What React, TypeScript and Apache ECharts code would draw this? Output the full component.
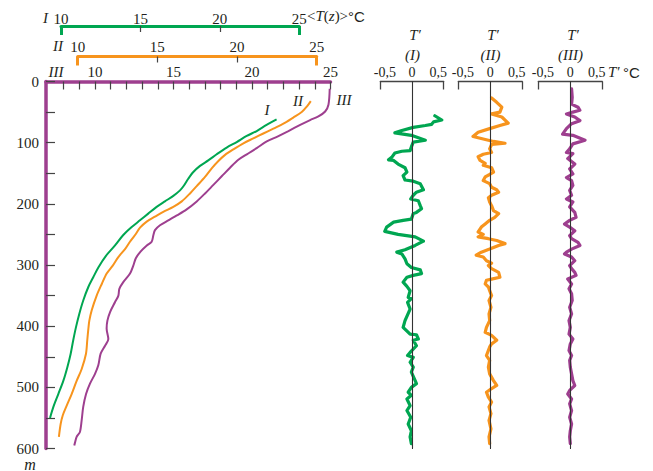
import React, { useEffect, useRef } from "react";
import * as echarts from "echarts";

const GREEN = "#00a651";
const ORANGE = "#f7941d";
const PURPLE = "#9e3f8f";
const INK = "#231f20";
const SERIF = "'Liberation Serif', 'DejaVu Serif', serif";
const SANS = "'Liberation Sans', 'DejaVu Sans', sans-serif";

// ---- mean temperature profiles <T(z)>, °C, vs depth, m ----
const depthI = [62, 71, 81, 89, 99, 108, 119, 129, 138, 148, 159, 170, 178, 187, 196, 205, 216, 227, 238, 251, 268, 285, 304, 320, 336, 358, 380, 402, 423, 445, 467, 489, 511, 532, 550];
const tempI = [23.57, 22.94, 22.32, 21.69, 21.06, 20.43, 19.8, 19.27, 18.75, 18.33, 18.01, 17.74, 17.49, 17.07, 16.54, 16.02, 15.49, 14.97, 14.45, 13.92, 13.4, 12.83, 12.35, 12.03, 11.72, 11.4, 11.15, 10.94, 10.77, 10.61, 10.4, 10.15, 9.83, 9.52, 9.31];

const depthII = [32, 41, 50, 59, 69, 77, 85, 93, 101, 111, 120, 130, 142, 156, 171, 183, 196, 205, 213, 221, 229, 239, 251, 262, 274, 287, 301, 314, 331, 350, 374, 391, 404, 423, 445, 470, 489, 511, 530, 546, 560, 581];
const tempII = [24.63, 24.38, 24.06, 23.53, 22.91, 22.28, 21.65, 21.02, 20.4, 19.77, 19.25, 18.83, 18.41, 17.99, 17.47, 17.05, 16.53, 16.0, 15.37, 14.85, 14.33, 13.91, 13.6, 13.28, 12.97, 12.55, 12.2, 11.82, 11.51, 11.19, 10.88, 10.73, 10.67, 10.6, 10.52, 10.25, 9.94, 9.62, 9.31, 9.06, 8.93, 8.82];

const depthIII = [12, 38, 49, 57, 63, 71, 81, 90, 98, 109, 119, 128, 141, 155, 169, 183, 196, 209, 219, 227, 235, 243, 251, 262, 268, 278, 289, 301, 314, 328, 339, 350, 361, 377, 391, 404, 421, 432, 445, 464, 478, 494, 511, 532, 554, 573, 581, 590, 595];
const tempIII = [24.95, 24.87, 24.66, 24.23, 23.7, 23.07, 22.32, 21.62, 20.94, 20.3, 19.67, 19.13, 18.6, 18.07, 17.54, 17.01, 16.48, 15.84, 15.21, 14.67, 14.14, 13.82, 13.72, 13.61, 13.3, 12.9, 12.6, 12.44, 12.23, 11.8, 11.55, 11.49, 11.27, 10.96, 10.79, 10.74, 10.85, 10.64, 10.36, 10.21, 10.0, 9.68, 9.43, 9.25, 9.15, 9.04, 8.83, 8.73, 8.68];

// ---- fluctuations T', °C, vs depth, m ----
const flucDepthI = [56, 63, 66, 70, 72, 75, 80, 84, 88, 96, 99, 107, 113, 114, 117, 124, 128, 129, 135, 141, 148, 154, 161, 163, 167, 177, 181, 186, 192, 195, 203, 208, 214, 216, 225, 227, 230, 238, 245, 250, 254, 261, 268, 275, 279, 282, 290, 298, 304, 308, 314, 317, 320, 328, 335, 342, 353, 355, 361, 372, 391, 402, 413, 414, 421, 423, 432, 443, 448, 451, 459, 467, 475, 489, 494, 500, 508, 513, 519, 530, 538, 549, 560, 571, 581, 592];
const flucI = [0.36, 0.47, 0.34, 0.31, 0.21, 0.02, -0.16, -0.27, -0.01, 0.21, 0.02, -0.01, -0.03, -0.16, -0.27, -0.32, -0.37, -0.29, -0.22, -0.11, -0.08, -0.14, -0.11, 0.02, 0.13, 0.18, 0.07, 0.02, -0.02, 0.1, 0.13, 0.15, 0.07, 0.02, -0.01, -0.14, -0.29, -0.4, -0.43, -0.22, 0.05, 0.18, 0.05, -0.11, -0.24, -0.16, -0.11, -0.08, -0.01, 0.13, 0.15, 0.02, -0.08, -0.14, -0.08, -0.03, -0.06, -0.01, -0.07, -0.03, -0.11, -0.14, -0.03, 0.07, 0.1, 0.02, 0.07, -0.03, -0.07, 0.02, -0.03, 0.02, -0.01, 0.05, 0.07, -0.01, -0.06, -0.01, -0.08, -0.03, -0.08, -0.02, -0.06, -0.01, -0.03, -0.01];

const flucDepthII = [27, 34, 42, 50, 53, 58, 68, 72, 77, 83, 90, 94, 98, 101, 103, 110, 116, 119, 123, 129, 134, 137, 141, 148, 152, 156, 162, 167, 173, 177, 181, 186, 190, 197, 203, 211, 216, 222, 227, 233, 238, 246, 250, 254, 257, 260, 265, 268, 274, 279, 284, 287, 293, 297, 301, 306, 312, 320, 323, 325, 331, 336, 342, 350, 358, 369, 380, 391, 402, 410, 415, 423, 429, 434, 448, 456, 467, 478, 489, 497, 502, 508, 516, 524, 532, 543, 554, 568, 581, 592];
const flucII = [0.02, 0.1, 0.18, 0.15, 0.02, 0.18, 0.28, 0.15, -0.01, -0.19, -0.27, -0.11, 0.05, 0.23, 0.02, -0.01, 0.02, -0.11, -0.19, -0.16, -0.08, -0.11, 0.02, 0.05, -0.01, -0.08, -0.11, -0.01, 0.02, 0.1, 0.13, 0.02, -0.03, -0.01, 0.02, 0.05, 0.13, 0.07, -0.01, -0.08, -0.14, -0.19, -0.11, -0.19, -0.03, 0.1, 0.23, 0.13, -0.01, -0.14, -0.22, -0.11, -0.06, 0.02, -0.03, 0.02, 0.13, 0.15, 0.02, -0.06, -0.08, -0.03, -0.01, 0.02, -0.02, 0.01, -0.02, -0.01, -0.06, -0.08, 0.02, 0.1, 0.02, -0.01, -0.06, -0.01, -0.03, -0.01, 0.05, 0.1, 0.02, -0.06, -0.03, 0.02, -0.02, 0.01, -0.02, 0.01, -0.02, -0.01];

const flucDepthIII = [12, 26, 37, 42, 47, 50, 53, 58, 64, 69, 77, 86, 88, 96, 102, 110, 116, 118, 126, 135, 143, 151, 157, 162, 170, 178, 186, 192, 197, 205, 214, 222, 227, 233, 238, 244, 252, 257, 263, 268, 274, 279, 282, 287, 293, 301, 306, 312, 317, 323, 331, 339, 347, 358, 369, 380, 391, 402, 413, 421, 429, 440, 448, 456, 467, 478, 489, 497, 505, 511, 519, 527, 538, 549, 560, 571, 581, 592];
const flucIII = [0.02, 0.03, 0.02, 0.12, 0.15, 0.04, -0.06, 0.07, 0.15, 0.02, -0.06, -0.12, 0.04, 0.23, 0.04, -0.01, -0.06, 0.04, -0.04, 0.07, -0.01, 0.04, -0.06, 0.02, 0.04, -0.01, 0.02, -0.06, 0.04, -0.01, 0.07, 0.09, -0.01, -0.09, -0.01, 0.07, -0.01, 0.02, 0.12, 0.15, 0.02, -0.06, -0.09, 0.02, 0.07, -0.01, 0.02, 0.07, 0.09, -0.04, 0.02, -0.02, 0.02, 0.03, -0.01, 0.02, -0.02, 0.0, -0.02, 0.04, 0.0, -0.02, 0.02, -0.01, 0.0, 0.02, 0.04, 0.07, -0.01, -0.04, 0.02, -0.01, 0.02, -0.01, 0.02, 0.0, -0.01, 0.0];

// ---- axis ticks / labels ----
const depthLabels = [0, 100, 200, 300, 400, 500, 600];
const tempLabels = [10, 15, 20, 25];
const tempMinorTicks = [15, 20];
const tempHookTicks = [10, 25];
const tempIIITicks = [8, 9, 10, 11, 12, 13, 14, 15, 16, 17, 18, 19, 20, 21, 22, 23, 24, 25];
const flucLabels = [-0.5, 0, 0.5];
const flucHooks = [-0.5, 0.5];

// ---- layout (pixels) ----
const MAIN = { left: 46, right: 330.5, top: 81.5, bottom: 448.5 };
// pixel position of 10 °C and 25 °C on each temperature scale
const SCALE_I = { p10: 61, p25: 299.3, y: 26 };
const SCALE_II = { p10: 77.7, p25: 316.7, y: 56.5 };
const SCALE_III = { p10: 95, p25: 330.5 };
const PANELS = [
  { left: 380.3, width: 63.4 },
  { left: 458.3, width: 64 },
  { left: 538.3, width: 64 },
];

function rangeFor(s: { p10: number; p25: number }) {
  const k = (s.p25 - s.p10) / 15;
  return [10 + (MAIN.left - s.p10) / k, 10 + (MAIN.right - s.p10) / k];
}

const zip = (xs: number[], ys: number[]) => xs.map((x, i) => [x, ys[i]]);

function buildOption(): any {
  const [minI, maxI] = rangeFor(SCALE_I);
  const [minII, maxII] = rangeFor(SCALE_II);
  const [minIII, maxIII] = rangeFor(SCALE_III);
  const mainH = MAIN.bottom - MAIN.top;
  const mainW = MAIN.right - MAIN.left;

  const grids: any[] = [
    { left: MAIN.left, top: MAIN.top, width: mainW, height: mainH },
    { left: SCALE_I.p10, top: SCALE_I.y, width: SCALE_I.p25 - SCALE_I.p10, height: 10 },
    { left: SCALE_II.p10, top: SCALE_II.y, width: SCALE_II.p25 - SCALE_II.p10, height: 10 },
    ...PANELS.map((p) => ({ left: p.left, top: MAIN.top, width: p.width, height: mainH })),
  ].map((g) => ({ ...g, containLabel: false, outerBoundsMode: "none" }));

  const labelFont = { fontFamily: SERIF, fontSize: 15, color: INK };
  const flucFont = { fontFamily: SERIF, fontSize: 14, color: INK };

  const hookAxis = (gridIndex: number, color: string) => ({
    type: "value",
    gridIndex,
    position: "top",
    min: 10,
    max: 25,
    axisLine: { show: true, onZero: false, lineStyle: { color, width: 3 } },
    axisTick: { show: true, inside: true, length: 9, customValues: tempHookTicks, lineStyle: { color, width: 3 } },
    axisLabel: { show: false },
    splitLine: { show: false },
  });
  const labelAxis = (gridIndex: number, margin: number) => ({
    type: "value",
    gridIndex,
    position: "top",
    min: 10,
    max: 25,
    axisLine: { show: false, onZero: false },
    axisTick: { show: true, inside: true, length: 6, customValues: tempMinorTicks, lineStyle: { color: "#444", width: 1.2 } },
    axisLabel: { show: true, customValues: tempLabels, margin, ...labelFont },
    splitLine: { show: false },
  });

  const xAxes: any[] = [
    // 0: scale III (visible, main grid)
    {
      type: "value",
      gridIndex: 0,
      position: "top",
      min: minIII,
      max: maxIII,
      axisLine: { show: true, onZero: false, lineStyle: { color: PURPLE, width: 3.5 } },
      axisTick: { show: true, inside: true, length: 8, customValues: tempIIITicks, lineStyle: { color: "#444", width: 1.2 } },
      axisLabel: { show: true, customValues: tempLabels, margin: 2, ...labelFont },
      splitLine: { show: false },
    },
    // 1: scale I (hidden, main grid)
    { type: "value", gridIndex: 0, min: minI, max: maxI, show: false },
    // 2: scale II (hidden, main grid)
    { type: "value", gridIndex: 0, min: minII, max: maxII, show: false },
    // 3,4: scale I visible
    hookAxis(1, GREEN),
    labelAxis(1, 0),
    // 5,6: scale II visible
    hookAxis(2, ORANGE),
    labelAxis(2, 2.5),
    // 7,8,9: fluctuation panels
    ...PANELS.map((_, i) => ({
      type: "value",
      gridIndex: 3 + i,
      position: "top",
      min: -0.5,
      max: 0.5,
      axisLine: { show: true, onZero: false, lineStyle: { color: "#444", width: 1.3 } },
      axisTick: { show: true, inside: true, length: 8, customValues: flucHooks, lineStyle: { color: "#444", width: 1.3 } },
      axisLabel: {
        show: true,
        customValues: flucLabels,
        margin: 2.5,
        ...flucFont,
        formatter: (v: number) => {
          const s = String(v).replace(".", ",");
          return v < 0 ? `{l|${s}}` : v > 0 ? `{r|${s}}` : `{c|${s}}`;
        },
        rich: {
          l: { ...flucFont, padding: [0, 0, 0, 9] },
          r: { ...flucFont, padding: [0, 11, 0, 0] },
          c: { ...flucFont },
        },
      },
      splitLine: { show: false },
    })),
  ];

  const yAxes: any[] = [
    {
      type: "value",
      gridIndex: 0,
      inverse: true,
      min: 0,
      max: 600,
      interval: 50,
      axisLine: { show: true, onZero: false, lineStyle: { color: PURPLE, width: 3.5 } },
      axisTick: { show: true, inside: true, length: 9, lineStyle: { color: "#444", width: 1.2 } },
      axisLabel: { show: true, customValues: depthLabels, margin: 7, ...labelFont },
      splitLine: { show: false },
    },
    { type: "value", gridIndex: 1, min: 0, max: 1, show: false },
    { type: "value", gridIndex: 2, min: 0, max: 1, show: false },
    ...PANELS.map((_, i) => ({
      type: "value",
      gridIndex: 3 + i,
      inverse: true,
      min: 0,
      max: 600,
      z: 10,
      axisLine: { show: true, onZero: true, lineStyle: { color: "#333", width: 1.1 } },
      axisTick: { show: false },
      axisLabel: { show: false },
      splitLine: { show: false },
    })),
  ];

  const profile = (name: string, t: number[], d: number[], color: string, xAxisIndex: number) => ({
    name,
    type: "line",
    xAxisIndex,
    yAxisIndex: 0,
    data: zip(t, d),
    symbol: "none",
    smooth: 0.3,
    clip: false,
    lineStyle: { color, width: 2 },
  });
  const fluc = (name: string, t: number[], d: number[], color: string, i: number) => ({
    name,
    type: "line",
    xAxisIndex: 7 + i,
    yAxisIndex: 3 + i,
    data: zip(t, d),
    symbol: "none",
    clip: false,
    lineStyle: { color, width: 3.2, join: "round", cap: "round" },
  });

  const it = (text: string, x: number, y: number, size = 15, align = "center", vAlign = "middle") => ({
    type: "text",
    x,
    y,
    style: { text, fontFamily: SERIF, fontStyle: "italic", fontSize: size, fill: INK, align, verticalAlign: vAlign },
  });

  const graphic: any[] = [
    it("I", 45.5, 18),
    it("II", 58, 46),
    it("III", 56, 72),
    it("m", 30, 472, 16, "center", "bottom"),
    it("I", 267, 110),
    it("II", 298, 101),
    it("III", 344, 100),
    {
      type: "text",
      x: 307,
      y: 16,
      style: {
        text: "{n|<}{i|T}{n|(}{i|z}{n|)>}{s|°C}",
        verticalAlign: "middle",
        align: "left",
        rich: {
          n: { fontFamily: SERIF, fontSize: 15, fill: INK },
          i: { fontFamily: SERIF, fontSize: 15, fontStyle: "italic", fill: INK },
          s: { fontFamily: SANS, fontSize: 15, fill: INK },
        },
      },
    },
    it("T′", 415, 35),
    it("(I)", 412.5, 55),
    it("T′", 493, 35),
    it("(II)", 490.5, 55),
    it("T′", 573, 35),
    it("(III)", 570.5, 55),
    it("T′", 608, 72, 15, "left"),
    {
      type: "text",
      x: 623,
      y: 72,
      style: { text: "°C", fontFamily: SANS, fontSize: 15, fill: INK, align: "left", verticalAlign: "middle" },
    },
  ];

  return {
    animation: false,
    backgroundColor: "#ffffff",
    grid: grids,
    xAxis: xAxes,
    yAxis: yAxes,
    series: [
      profile("I", tempI, depthI, GREEN, 1),
      profile("II", tempII, depthII, ORANGE, 2),
      profile("III", tempIII, depthIII, PURPLE, 0),
      fluc("I′", flucI, flucDepthI, GREEN, 0),
      fluc("II′", flucII, flucDepthII, ORANGE, 1),
      fluc("III′", flucIII, flucDepthIII, PURPLE, 2),
    ],
    graphic,
  };
}

export default function App() {
  const ref = useRef<HTMLDivElement>(null);
  useEffect(() => {
    if (!ref.current) return;
    const chart = echarts.init(ref.current, undefined, { renderer: "svg" });
    chart.setOption(buildOption());
    return () => chart.dispose();
  }, []);
  return (
    <div
      ref={ref}
      style={{ position: "fixed", left: 0, top: 0, width: 653, height: 471, background: "#fff" }}
    />
  );
}
